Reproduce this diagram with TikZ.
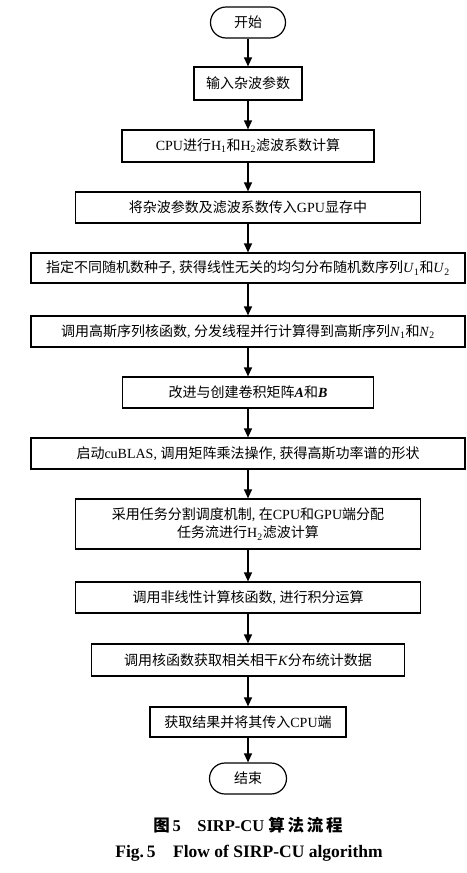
\documentclass[tikz,border=0pt]{standalone}
\usepackage{fontspec}
\setmainfont{Liberation Serif}
\newfontfamily\cjk{Noto Sans CJK SC}
\usetikzlibrary{arrows.meta}
\newcommand{\ltn}[1]{\textrm{#1}}

\begin{document}
\begin{tikzpicture}[x=1pt, y=-1pt,
    box/.style={draw, line width=1.2pt, inner sep=0pt, align=center,
        font=\cjk\fontsize{14}{18}\selectfont},
    term/.style={box, rounded corners=15.5pt},
    flow/.style={-{Triangle[length=9pt, width=8pt]}, line width=1.2pt}]
\def\cx{248}
\useasboundingbox (0,0) rectangle (466,873);

% Start / end
\node[term, minimum width=75pt, minimum height=31pt] (start) at (\cx, 22.5) {开始};
\node[term, minimum width=77pt, minimum height=31pt] (end) at (\cx, 778.5) {结束};

% Steps
\node[box, minimum width=108pt, minimum height=33pt] (b1) at (\cx, 83.5) {输入杂波参数};
\node[box, minimum width=252pt, minimum height=32pt] (b2) at (\cx, 146)
    {\ltn{CPU}进行\ltn{H\textsubscript{1}}和\ltn{H\textsubscript{2}}滤波系数计算};
\node[box, minimum width=345pt, minimum height=31pt] (b3) at (\cx, 207.5)
    {将杂波参数及滤波系数传入\ltn{GPU}显存中};
\node[box, minimum width=434pt, minimum height=30pt] (b4) at (\cx, 268)
    {指定不同随机数种子\ltn{, }获得线性无关的均匀分布随机数序列\ltn{\textit{U}\textsubscript{1}}和\ltn{\textit{U}\textsubscript{2}}};
\node[box, minimum width=434pt, minimum height=31pt] (b5) at (\cx, 331.5)
    {调用高斯序列核函数\ltn{, }分发线程并行计算得到高斯序列\ltn{\textit{N}\textsubscript{1}}和\ltn{\textit{N}\textsubscript{2}}};
\node[box, minimum width=251pt, minimum height=31pt] (b6) at (\cx, 392.5)
    {改进与创建卷积矩阵\ltn{\textbf{\textit{A}}}和\ltn{\textbf{\textit{B}}}};
\node[box, minimum width=434pt, minimum height=31pt] (b7) at (\cx, 453.5)
    {启动\ltn{cuBLAS, }调用矩阵乘法操作\ltn{, }获得高斯功率谱的形状};
\node[box, minimum width=345pt, minimum height=50pt] (b8) at (\cx, 524)
    {采用任务分割调度机制\ltn{, }在\ltn{CPU}和\ltn{GPU}端分配\\任务流进行\ltn{H\textsubscript{2}}滤波计算};
\node[box, minimum width=345pt, minimum height=31pt] (b9) at (\cx, 597.5)
    {调用非线性计算核函数\ltn{, }进行积分运算};
\node[box, minimum width=313pt, minimum height=32pt] (b10) at (\cx, 660)
    {调用核函数获取相关相干\ltn{\textit{K}}分布统计数据};
\node[box, minimum width=196pt, minimum height=30pt] (b11) at (\cx, 722)
    {获取结果并将其传入\ltn{CPU}端};

% Connectors
\foreach \a/\b in {start/b1, b1/b2, b2/b3, b3/b4, b4/b5, b5/b6, b6/b7,
                   b7/b8, b8/b9, b9/b10, b10/b11, b11/end}
    \draw[flow] (\a) -- (\b);

% Caption
\node[font=\fontsize{16.5}{20}\selectfont\bfseries] (cap1) at (\cx, 825)
    {{\cjk 图}\,5\quad SIRP-CU {\cjk 算\,法\,流\,程}};
\node[font=\fontsize{17.5}{21}\selectfont\bfseries] (cap2) at (\cx+1, 853)
    {Fig.\,5\quad Flow of SIRP-CU algorithm};
\end{tikzpicture}
\end{document}
